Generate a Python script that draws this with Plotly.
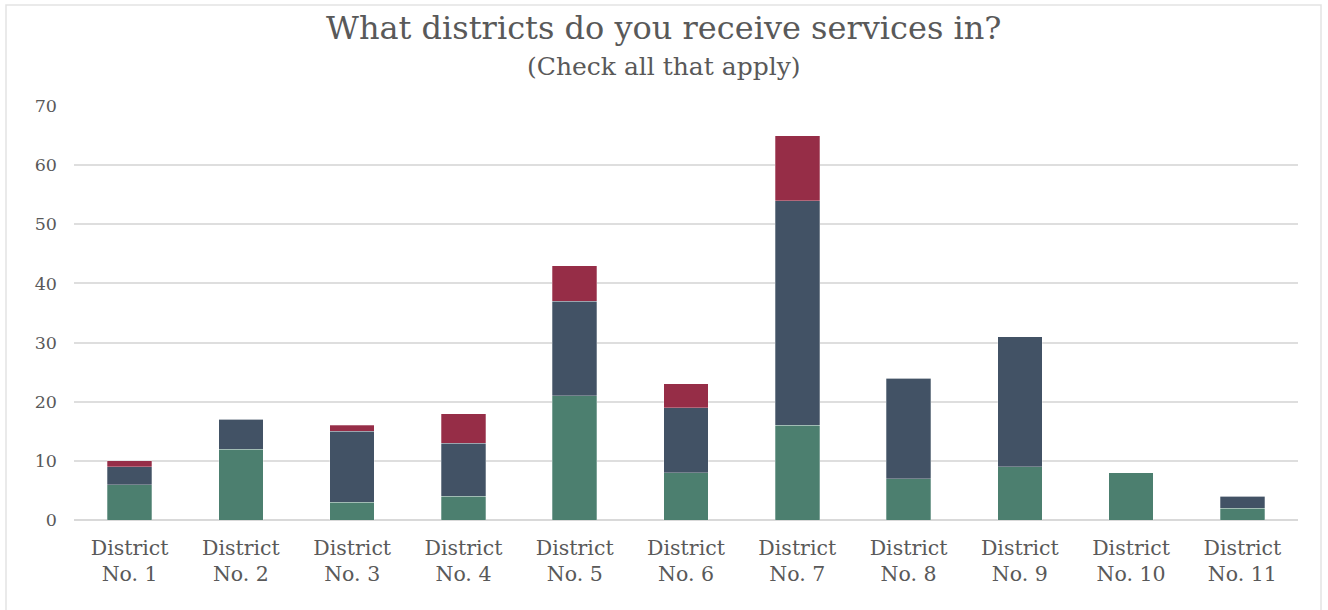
import plotly.graph_objects as go

# Survey responses per district, stacked in three groups
districts = ["District<br>No. 1", "District<br>No. 2", "District<br>No. 3", "District<br>No. 4",
             "District<br>No. 5", "District<br>No. 6", "District<br>No. 7", "District<br>No. 8",
             "District<br>No. 9", "District<br>No. 10", "District<br>No. 11"]
group_a = [6, 12, 3, 4, 21, 8, 16, 7, 9, 8, 2]
group_b = [3, 5, 12, 9, 16, 11, 38, 17, 22, 0, 2]
group_c = [1, 0, 1, 5, 6, 4, 11, 0, 0, 0, 0]

colors = ["#4c7f6f", "#425265", "#962d47"]
FONT = "'DejaVu Serif', Georgia, serif"
TEXT = "#595959"

fig = go.Figure()
for name, vals, col in [("Group A", group_a, colors[0]),
                        ("Group B", group_b, colors[1]),
                        ("Group C", group_c, colors[2])]:
    fig.add_trace(go.Bar(x=districts, y=vals, name=name,
                         marker=dict(color=col, line=dict(width=0.8, color="rgba(255,255,255,0.35)"))))

# title block is centred on the whole page, not on the plot area
title_x = (664 - 74) / 1224

fig.update_layout(
    barmode="stack",
    bargap=0.6,
    width=1328, height=610,
    margin=dict(l=74, r=30, t=106, b=90),
    paper_bgcolor="white", plot_bgcolor="white",
    showlegend=False,
    font=dict(family=FONT, color=TEXT),
    xaxis=dict(showgrid=False, showline=False, ticks="", ticklabelstandoff=13,
               tickfont=dict(family=FONT, size=20.5, color=TEXT)),
    yaxis=dict(range=[0, 70], dtick=10, showgrid=True, gridcolor="#dedede", gridwidth=1.5,
               zeroline=True, zerolinecolor="#d9d9d9", zerolinewidth=1.5,
               showline=False, ticks="", ticklabelstandoff=16,
               tickfont=dict(family=FONT, size=17.5, color=TEXT)),
    annotations=[
        dict(text="What districts do you receive services in?", xref="paper", yref="paper",
             x=title_x, y=1 + 78 / 414, xanchor="center", yanchor="middle", showarrow=False,
             font=dict(family=FONT, size=32, color=TEXT)),
        dict(text="(Check all that apply)", xref="paper", yref="paper",
             x=title_x, y=1 + 40 / 414, xanchor="center", yanchor="middle", showarrow=False,
             font=dict(family=FONT, size=25, color=TEXT)),
    ],
    shapes=[dict(type="rect", xref="paper", yref="paper",
                 x0=-68 / 1224, x1=1 + 23 / 1224, y0=-95 / 414, y1=1 + 101 / 414,
                 line=dict(color="#e3e3e3", width=1.5), fillcolor="rgba(0,0,0,0)", layer="below")],
)

fig.write_html("out.html")
